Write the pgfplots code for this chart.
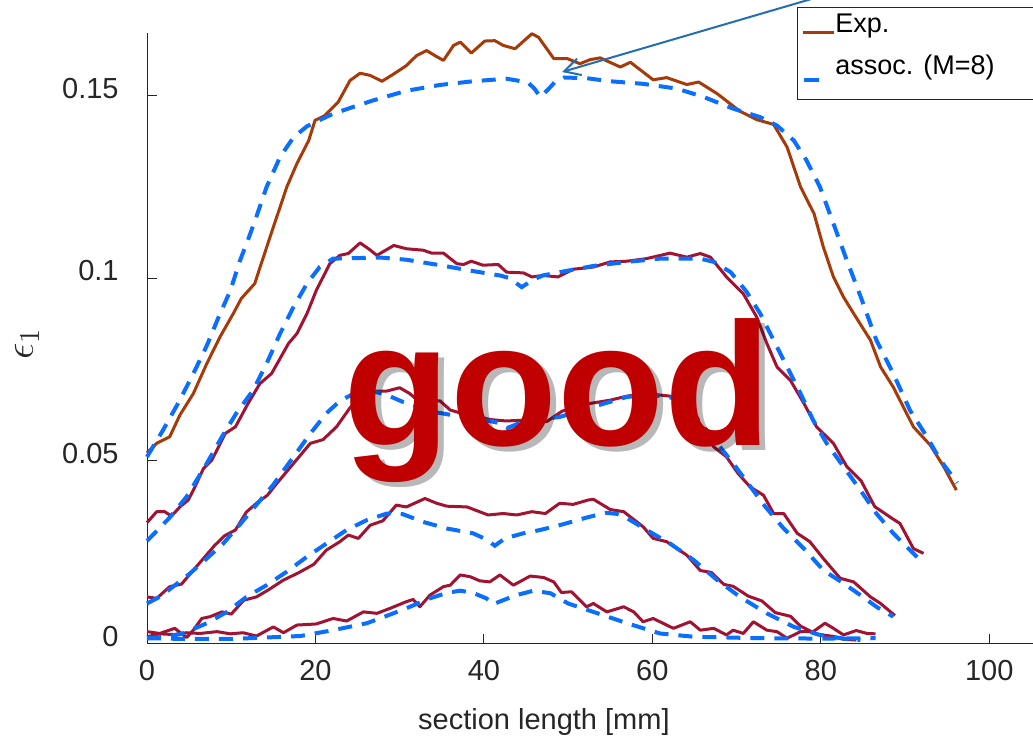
\documentclass[border=0pt]{standalone}
\usepackage{pgfplots}
\pgfplotsset{compat=1.18}
\usepackage{fontspec}
\setmainfont{Liberation Sans}
\usetikzlibrary{arrows.meta,calc}
\definecolor{expbrown}{RGB}{166,58,8}
\definecolor{expred}{RGB}{160,20,50}
\definecolor{modblue}{RGB}{10,110,255}
\definecolor{axgray}{RGB}{38,38,38}
\definecolor{arrowblue}{RGB}{35,110,175}
\definecolor{goodred}{RGB}{192,0,0}
\begin{document}
\begin{tikzpicture}
\useasboundingbox (0,0) rectangle (516.5pt,-368.5pt);
\clip (0,0) rectangle (516.5pt,-368.5pt);
\begin{axis}[
  at={(73.5pt,-321.85pt)}, anchor=south west,
  scale only axis, width=443pt, height=305.35pt,
  xmin=0, xmax=105.2, ymin=0, ymax=0.167,
  axis lines*=left,
  axis line style={-, draw=axgray, line width=0.5pt},
  clip=false,
  xtick={0,20,40,60,80,100}, xticklabels={0,20,40,60,80,100},
  ytick={0,0.05,0.1,0.15}, yticklabels={0,0.05,0.1,0.15},
  /pgf/number format/assume math mode=true,
  major tick length=5pt,
  every tick/.style={axgray, line width=0.5pt},
  tick label style={font=\fontsize{14.5}{17}\selectfont, text=axgray},
  xticklabel style={inner sep=0pt, anchor=north, yshift=-8.15pt},
  yticklabel style={inner sep=0pt, anchor=east, xshift=-14pt, yshift=3.5pt},
  xlabel={section length [mm]},
  xlabel style={at={(axis description cs:0.448,-0.1413)}, anchor=base, inner sep=0pt, font=\fontsize{14.5}{17}\selectfont, text=axgray},
  ylabel={\fontsize{21}{25}\selectfont$\epsilon_1$},
  ylabel style={at={(axis description cs:-0.1354,0.4907)}, anchor=center, inner sep=0pt, text=axgray},
  legend style={at={(axis description cs:0.7336,1.0426)}, anchor=north west,
    draw=black!85, line width=0.5pt, fill=white,
    font=\fontsize{13.5}{16}\selectfont, text=black,
    inner xsep=1.85pt, inner ysep=2pt, row sep=0pt, column sep=0pt},
  legend cell align=left,
]
% ---------- Experimental curves ----------
\addplot[expbrown, line width=1.5pt, line join=round, forget plot] coordinates {
(0,0.0522)(1.15,0.0548)(2.7,0.0566)(3.9,0.0625)(5.5,0.0684)(7.1,0.0766)(8.67,0.0839)
(10.25,0.0903)(11.2,0.0944)(12.8,0.0985)(13.5,0.1035)(15.0,0.1139)(16.6,0.1249)
(17.8,0.1313)(19.2,0.1376)(19.95,0.1431)(21.1,0.1444)(22.7,0.1481)(24.1,0.154)
(25.3,0.156)(26.5,0.1554)(27.9,0.1538)(29.3,0.1558)(30.8,0.1581)(32.0,0.1608)
(33.2,0.1622)(34.2,0.1608)(35.2,0.1595)(36.4,0.1636)(37.2,0.1645)(38.5,0.1615)
(40.1,0.1648)(41.3,0.1649)(42.3,0.1636)(43.7,0.1627)(45.7,0.1668)(46.5,0.1658)
(48.3,0.1600)(49.9,0.1600)(51.4,0.1586)(52.6,0.1597)(53.8,0.1602)(56.2,0.1577)
(57.4,0.159)(60.1,0.1542)(61.7,0.1548)(64.1,0.1529)(65.5,0.1536)(67.7,0.1504)
(70.4,0.1456)(72.4,0.1433)(74.4,0.1420)(76.0,0.1358)(77.6,0.1249)(79.2,0.1176)
(80.3,0.1085)(81.5,0.1003)(82.7,0.0948)(83.9,0.0903)(85.9,0.083)(87.1,0.0757)
(88.6,0.0702)(91.0,0.0593)(93.0,0.0543)(94.6,0.0484)(96.1,0.042)
};
\addplot[expred, line width=1.5pt, line join=round, forget plot] coordinates {
(0,0.0331)(1.15,0.0361)(2.1,0.0361)(2.9,0.0349)(3.9,0.0374)(4.9,0.0393)(5.7,0.0429)
(6.7,0.0479)(7.7,0.0502)(9.3,0.0575)(10.5,0.0593)(12.0,0.0657)(13.4,0.0711)
(14.8,0.0739)(16.8,0.0821)(17.8,0.0848)(19.0,0.0903)(20.1,0.0966)(21.7,0.1039)
(22.9,0.1062)(23.9,0.1067)(25.3,0.1096)(26.3,0.108)(27.3,0.1062)(29.3,0.1089)
(30.8,0.108)(32.8,0.1076)(33.8,0.1068)(35.2,0.1068)(36.8,0.1039)(37.6,0.1037)
(38.5,0.1046)(39.9,0.1035)(41.7,0.1037)(42.7,0.1016)(44.7,0.1014)(45.7,0.1003)
(47.0,0.1007)(48.8,0.1003)(50.6,0.1024)(53.0,0.103)(55.0,0.1044)(57.0,0.1046)
(59.3,0.1053)(62.1,0.1068)(64.1,0.1057)(65.7,0.1067)(66.9,0.1057)(68.8,0.1003)
(70.8,0.0957)(72.4,0.0893)(73.6,0.0821)(74.8,0.0757)(76.4,0.072)(78.0,0.0657)
(79.5,0.0593)(81.5,0.0548)(83.1,0.0484)(84.8,0.0445)(86.4,0.0375)(88.5,0.0342)
(89.4,0.0329)(91.0,0.026)(92.2,0.0247)
};
\addplot[expred, line width=1.5pt, line join=round, forget plot] coordinates {
(0,0.0128)(1.15,0.0124)(2.7,0.0156)(4.1,0.0163)(5.5,0.0201)(6.7,0.0233)(8.0,0.0268)
(9.2,0.0295)(10.5,0.0311)(11.8,0.036)(13.0,0.0384)(14.3,0.0406)(15.4,0.0438)
(17.4,0.0493)(19.4,0.0548)(20.9,0.0558)(22.5,0.0593)(24.1,0.0645)(25.7,0.0684)
(27.3,0.0691)(28.5,0.0691)(30.0,0.07)(31.2,0.0684)(32.0,0.0668)(34.8,0.0664)
(36.0,0.0639)(37.2,0.0631)(38.7,0.0625)(40.7,0.0613)(42.7,0.0609)(44.3,0.0611)
(45.9,0.0609)(47.5,0.0608)(49.3,0.0636)(52.6,0.0657)(55.0,0.0666)(57.0,0.0677)
(59.3,0.0684)(62.1,0.0677)(63.8,0.0665)(65.5,0.0605)(67.3,0.0538)(68.8,0.0511)
(70.2,0.0465)(71.6,0.0429)(73.2,0.0406)(74.4,0.0356)(75.6,0.0356)(77.2,0.0302)
(78.7,0.0279)(80.3,0.0233)(82.3,0.0179)(83.9,0.0169)(85.9,0.0128)(87.1,0.011)
(88.8,0.0077)
};
\addplot[expred, line width=1.5pt, line join=round, forget plot] coordinates {
(0,0.0033)(1.5,0.0028)(3.3,0.0042)(4.7,0.0017)(5.5,0.0037)(6.5,0.0069)(7.5,0.0074)
(8.9,0.0087)(10.0,0.0081)(11.5,0.0119)(13.0,0.0128)(14.4,0.0147)(16.2,0.0174)
(18.0,0.0194)(19.8,0.0217)(21.3,0.0256)(22.9,0.0279)(23.9,0.0297)(25.1,0.0288)
(26.5,0.0324)(28.0,0.0336)(29.6,0.0379)(30.8,0.0374)(33.0,0.0397)(34.4,0.0384)
(35.6,0.0376)(38.0,0.0374)(40.5,0.0352)(42.3,0.0356)(43.9,0.0352)(45.7,0.0361)
(47.3,0.0356)(49.0,0.0384)(50.6,0.0381)(52.4,0.0393)(53.0,0.0395)(55.0,0.0367)
(56.6,0.0361)(58.9,0.032)(60.1,0.0288)(61.7,0.0279)(64.1,0.0242)(65.7,0.0200)
(67.0,0.0195)(68.5,0.0162)(69.6,0.0157)(71.4,0.013)(73.0,0.0117)(74.6,0.0085)
(76.4,0.0075)(77.6,0.0048)(79.5,0.0026)(81.5,0.002)(82.7,0.0012)(84.2,0.001)
};
\addplot[expred, line width=1.5pt, line join=round, forget plot] coordinates {
(0,0.0019)(1.5,0.0027)(3.2,0.0025)(4.7,0.003)(6.3,0.0028)(8.3,0.0033)(9.9,0.0027)
(11.4,0.003)(13.0,0.0021)(15.0,0.0046)(16.2,0.003)(17.8,0.0051)(20.1,0.0054)
(22.1,0.0069)(23.7,0.0062)(25.7,0.0087)(27.3,0.0083)(28.9,0.0097)(30.8,0.0115)
(31.6,0.0121)(32.4,0.0101)(33.6,0.0133)(35.2,0.0156)(36.0,0.016)(37.2,0.0188)
(38.4,0.0183)(39.5,0.0172)(40.7,0.0169)(41.9,0.0188)(43.5,0.016)(45.5,0.0185)
(47.1,0.0181)(48.3,0.0169)(49.2,0.0140)(50.4,0.0142)(52.2,0.0101)(53.0,0.011)
(54.6,0.0087)(56.6,0.0101)(57.8,0.0087)(58.9,0.006)(60.1,0.0069)(62.5,0.0042)
(64.5,0.006)(65.7,0.0037)(67.3,0.0042)(68.8,0.0024)(69.6,0.0037)(70.8,0.0028)
(72.0,0.006)(73.6,0.0037)(74.8,0.0033)(76.0,0.0015)(77.6,0.0033)(79.1,0.0033)
(80.5,0.0056)(81.5,0.0042)(82.7,0.0024)(84.2,0.0036)(85.5,0.0028)(86.5,0.0027)
};
% ---------- Model curves (assoc., M=8) ----------
\addplot[modblue, line width=2pt, dash pattern=on 7pt off 5pt, forget plot] coordinates {
(0,0.0511)(1.9,0.0584)(3.9,0.0666)(5.7,0.0748)(7.1,0.0815)(8.5,0.0893)(9.9,0.0966)
(11.0,0.1045)(12.0,0.1105)(12.8,0.1155)(14.2,0.1249)(15.8,0.1331)(17.4,0.1385)
(19.0,0.1415)(20.5,0.1432)(22.1,0.1449)(24.5,0.1468)(26.9,0.1486)(30.8,0.1512)
(34.8,0.1528)(38.7,0.1538)(42.7,0.1545)(45.2,0.1535)(46.0,0.1518)(46.7,0.1495)
(47.6,0.1515)(48.4,0.1535)(49.5,0.1548)(52.0,0.1547)(55.0,0.1538)(58.9,0.1531)
(62.9,0.1518)(66.1,0.1495)(69.6,0.1463)(72.8,0.1440)(74.8,0.1417)(76.8,0.1376)
(78.3,0.1322)(79.9,0.1249)(81.5,0.1149)(83.1,0.1048)(84.8,0.0945)(86.6,0.0830)
(88.6,0.0739)(90.6,0.0638)(92.6,0.0566)(94.2,0.0502)(96.2,0.0440)
};
\addplot[modblue, line width=2pt, dash pattern=on 7pt off 5pt, forget plot] coordinates {
(0,0.0281)(2.7,0.0345)(4.7,0.0402)(7.1,0.0493)(8.9,0.0566)(10.6,0.063)(12.6,0.0693)
(14.2,0.0766)(15.8,0.0848)(17.4,0.0921)(19.0,0.0985)(20.5,0.103)(22.1,0.1053)
(27.7,0.1056)(30.8,0.105)(34.8,0.1035)(38.7,0.1019)(41.9,0.1007)(43.0,0.1000)
(44.5,0.0975)(45.8,0.0995)(47.0,0.1007)(49.0,0.1016)(53.0,0.1033)(57.0,0.1044)
(60.9,0.1053)(65.7,0.1053)(67.3,0.1044)(69.3,0.1016)(71.2,0.0962)(72.8,0.0903)
(74.4,0.083)(76.0,0.0757)(77.6,0.0684)(79.1,0.0611)(80.7,0.0548)(82.7,0.0484)
(84.7,0.042)(86.6,0.0356)(88.6,0.0302)(90.2,0.0265)(92.0,0.0224)
};
\addplot[modblue, line width=2pt, dash pattern=on 7pt off 5pt, forget plot] coordinates {
(0,0.011)(1.5,0.0128)(3.1,0.0156)(5.1,0.0192)(7.1,0.0233)(9.05,0.0274)(11.0,0.0325)
(13.0,0.038)(15.0,0.0435)(17.4,0.0511)(19.4,0.0575)(21.3,0.063)(22.9,0.0664)
(24.9,0.0688)(26.9,0.069)(28.5,0.068)(30.4,0.0661)(34.0,0.0634)(37.0,0.0622)
(40.0,0.0612)(41.5,0.0605)(42.8,0.0590)(44.2,0.0603)(45.5,0.0610)(49.0,0.062)
(53.0,0.0648)(57.0,0.0675)(60.0,0.068)(62.5,0.0672)(64.5,0.064)(66.2,0.059)
(67.7,0.0548)(69.6,0.0493)(71.6,0.0431)(73.4,0.0375)(75.6,0.0315)(78.0,0.026)
(80.3,0.0201)(82.7,0.0165)(84.7,0.0133)(86.6,0.0101)(88.6,0.0074)
};
\addplot[modblue, line width=2pt, dash pattern=on 7pt off 5pt, forget plot] coordinates {
(0,0.0015)(2.3,0.0019)(4.3,0.0028)(7.1,0.0056)(9.5,0.0087)(11.8,0.0128)(14.2,0.016)
(16.6,0.0197)(19.0,0.0238)(21.3,0.0274)(23.7,0.0311)(26.1,0.0338)(28.5,0.0356)
(30.4,0.0354)(32.8,0.0333)(35.6,0.0315)(38.7,0.0302)(40.3,0.0285)(41.3,0.0268)
(42.5,0.0288)(44.7,0.0302)(46.7,0.0311)(49.3,0.0326)(52.2,0.0345)(54.5,0.0358)
(55.8,0.0355)(57.0,0.0343)(59.7,0.0306)(62.1,0.0274)(64.9,0.0229)(67.7,0.0174)
(70.4,0.0128)(73.6,0.0083)(76.8,0.0046)(79.7,0.0025)(82.7,0.0014)(84.7,0.001)
};
\addplot[modblue, line width=2pt, dash pattern=on 7pt off 5pt, forget plot] coordinates {
(0,0.0015)(4.3,0.0013)(10,0.0013)(14.2,0.0017)(18.2,0.0021)(22.1,0.0037)(26.1,0.0056)
(28.9,0.0080)(30.8,0.0097)(33.6,0.0124)(35.6,0.0139)(37.2,0.0145)(38.7,0.0139)
(40.3,0.0124)(41.1,0.0108)(42.3,0.0119)(43.9,0.0133)(45.9,0.0145)(47.9,0.0138)
(50.0,0.011)(52.6,0.0090)(57.0,0.0056)(60.9,0.0028)(64.9,0.0019)(72.8,0.0015)
(80,0.0014)(86.5,0.0015)
};
% ---------- legend ----------
\addlegendimage{legend image code/.code={\draw[expbrown, line width=1.5pt] (0pt,0pt) -- (15.6pt,0pt);}}
\addlegendentry[inner sep=0pt, text height=10.5pt, text depth=10.5pt]{Exp.}
\addlegendimage{legend image code/.code={\path[draw=none] (0pt,0pt) -- (16pt,0pt); \draw[modblue, line width=2pt] (0.5pt,-3pt) -- (8pt,-3pt);}}
\addlegendentry[inner sep=0pt, text height=10.5pt, text depth=10.5pt]{assoc. (M=8)\hspace*{45pt}}
\end{axis}
% ---------- annotations ----------
\draw[arrowblue, line width=1pt, -{Straight Barb[length=8pt, width=8.5pt]}] (425pt,6.15pt) -- (281pt,-36pt);
\node[anchor=base west, inner sep=0pt, font=\fontsize{87.6}{90}\selectfont\bfseries, text=black, text opacity=0.28] at (174.3pt,-225.3pt) {good};
\node[anchor=base west, inner sep=0pt, font=\fontsize{87.6}{90}\selectfont\bfseries, text=goodred] at (171.5pt,-222.5pt) {good};
\end{tikzpicture}
\end{document}
